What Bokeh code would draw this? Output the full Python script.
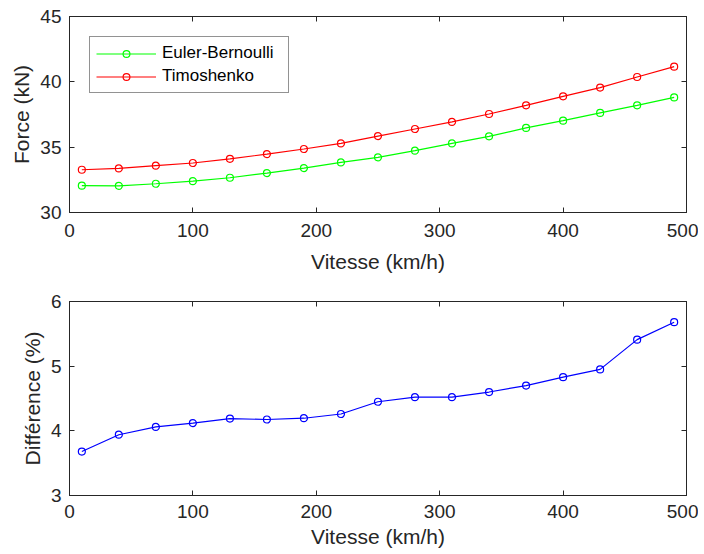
from bokeh.plotting import figure
from bokeh.models import Range1d, FixedTicker, LinearAxis, Legend
from bokeh.layouts import column
from bokeh.embed import file_html
from bokeh.resources import INLINE

vitesse = [10, 40, 70, 100, 130, 160, 190, 220, 250, 280, 310, 340, 370, 400, 430, 460, 490]
euler_bernoulli = [32.05, 32.04, 32.2, 32.4, 32.66, 33.02, 33.4, 33.83, 34.22, 34.73, 35.29,
                   35.83, 36.47, 37.03, 37.62, 38.2, 38.81]
timoshenko = [33.27, 33.37, 33.58, 33.79, 34.11, 34.47, 34.86, 35.29, 35.85, 36.39, 36.93,
              37.54, 38.2, 38.89, 39.56, 40.37, 41.16]
difference = [3.68, 3.94, 4.06, 4.12, 4.19, 4.175, 4.195, 4.26, 4.45, 4.52, 4.52,
              4.6, 4.7, 4.83, 4.95, 5.41, 5.68]

x_ticks = [0, 100, 200, 300, 400, 500]
force_ticks = [30, 35, 40, 45]
diff_ticks = [3, 4, 5, 6]

FONT = "Liberation Sans"
AX = "#262626"


def style(p, xt, yt, xlabel, ylabel, xstand, xlabstand):
    p.xgrid.visible = False
    p.ygrid.visible = False
    p.outline_line_color = AX
    p.outline_line_width = 1
    for ax, t, lab in ((p.xaxis[0], xt, xlabel), (p.yaxis[0], yt, ylabel)):
        ax.ticker = FixedTicker(ticks=t)
        ax.axis_label = lab
        ax.axis_label_text_font = FONT
        ax.axis_label_text_font_style = "normal"
        ax.axis_label_text_font_size = "21px"
        ax.axis_label_text_color = AX
        ax.major_label_text_font = FONT
        ax.major_label_text_font_size = "19px"
        ax.major_label_text_color = AX
        ax.axis_line_color = AX
        ax.major_tick_line_color = AX
        ax.major_tick_in = 5
        ax.major_tick_out = 0
        ax.minor_tick_line_color = None
    p.xaxis[0].major_label_standoff = xstand
    p.xaxis[0].axis_label_standoff = xlabstand
    p.yaxis[0].major_label_standoff = 8
    p.yaxis[0].axis_label_standoff = 4
    for loc, t in (("above", xt), ("right", yt)):
        ax = LinearAxis(ticker=FixedTicker(ticks=t))
        ax.major_label_text_color = None
        ax.major_label_text_font_size = "1px"
        ax.major_label_standoff = 0
        ax.major_tick_in = 5
        ax.major_tick_out = 0
        ax.minor_tick_line_color = None
        ax.axis_line_color = AX
        ax.major_tick_line_color = AX
        p.add_layout(ax, loc)


p1 = figure(width=698, height=280, x_range=Range1d(0, 500), y_range=Range1d(30, 45),
            output_backend="svg", toolbar_location=None,
            min_border_left=69, min_border_right=12, min_border_top=16, min_border_bottom=68)
style(p1, x_ticks, force_ticks, "Vitesse (km/h)", "Force (kN)", 11, 10)

l1 = p1.line(vitesse, euler_bernoulli, line_color="#00FF00", line_width=1.2)
s1 = p1.scatter(vitesse, euler_bernoulli, marker="circle", size=7, fill_color=None,
                line_color="#00FF00", line_width=1.2)
l2 = p1.line(vitesse, timoshenko, line_color="#FF0000", line_width=1.2)
s2 = p1.scatter(vitesse, timoshenko, marker="circle", size=7, fill_color=None,
                line_color="#FF0000", line_width=1.2)

legend = Legend(items=[("Euler-Bernoulli", [l1, s1]), ("Timoshenko", [l2, s2])],
                location="top_left")
legend.margin = 20
legend.padding = 6
legend.spacing = 3
legend.glyph_width = 60
legend.glyph_height = 17
legend.label_standoff = 6
legend.label_width = 120
legend.label_text_font = FONT
legend.label_text_font_size = "17px"
legend.label_text_color = "#000000"
legend.border_line_color = AX
legend.border_line_width = 1
legend.background_fill_color = "white"
legend.background_fill_alpha = 1
p1.add_layout(legend, "center")

p2 = figure(width=698, height=274, x_range=Range1d(0, 500), y_range=Range1d(3, 6),
            output_backend="svg", toolbar_location=None,
            min_border_left=69, min_border_right=12, min_border_top=21, min_border_bottom=59)
style(p2, x_ticks, diff_ticks, "Vitesse (km/h)", "Différence (%)", 9, 4)
p2.line(vitesse, difference, line_color="#0000FF", line_width=1.2)
p2.scatter(vitesse, difference, marker="circle", size=7, fill_color=None,
           line_color="#0000FF", line_width=1.2)

layout = column(p1, p2, spacing=0)
open("out.html", "w").write(file_html(layout, INLINE))
